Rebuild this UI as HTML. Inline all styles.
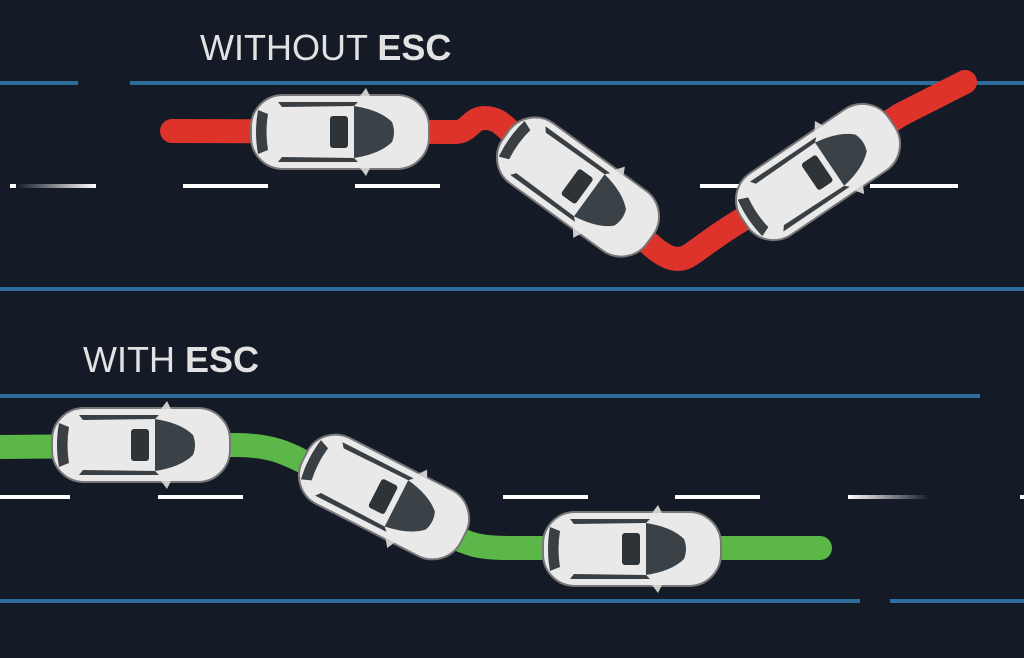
<!DOCTYPE html>
<html><head><meta charset="utf-8"><style>
html,body{margin:0;padding:0;background:#141b27;}
svg{display:block}
</style></head><body>
<svg width="1024" height="658" viewBox="0 0 1024 658" xmlns="http://www.w3.org/2000/svg">
<defs>
<linearGradient id="fade" x1="0" x2="1"><stop offset="0" stop-color="#fff" stop-opacity="0"/><stop offset="1" stop-color="#fff"/></linearGradient>
<linearGradient id="fadeR" x1="0" x2="1"><stop offset="0" stop-color="#fff"/><stop offset="1" stop-color="#fff" stop-opacity="0"/></linearGradient>
<g id="car">
<rect x="-89" y="-37" width="178" height="74" rx="32" fill="#e9e9e9" stroke="#777" stroke-width="2"/>
<path d="M-82,-22 Q-86,0 -82,22 L-72,18 Q-75,0 -72,-18Z" fill="#3a3f44"/>
<path d="M14,-26 Q40,-22 52,-10 Q56,0 52,10 Q40,22 14,26 Z" fill="#3b4247"/>
<rect x="-10" y="-16" width="18" height="32" rx="3" fill="#2e3338"/>
<path d="M-62,-30 L18,-30 L14,-26 L-58,-25Z" fill="#3a3f44"/>
<path d="M-62,30 L18,30 L14,26 L-58,25Z" fill="#3a3f44"/>
<path d="M20,-36 L26,-44 L30,-36Z M20,36 L26,44 L30,36Z" fill="#ccc"/>
</g>
</defs>
<rect width="1024" height="658" fill="#141b27"/>
<!-- blue lines -->
<g fill="#2f6e9c">
<rect x="0" y="81" width="78" height="4"/><rect x="130" y="81" width="894" height="4"/>
<rect x="0" y="287" width="1024" height="4"/>
<rect x="0" y="394" width="980" height="4"/>
<rect x="0" y="599" width="860" height="4"/><rect x="890" y="599" width="134" height="4"/>
</g>
<!-- dashes -->
<g fill="#fff">
<rect x="10" y="184" width="6" height="4"/><rect x="16" y="184" width="80" height="4" fill="url(#fadeR)" transform="scale(-1,1) translate(-112,0)"/>
<rect x="183" y="184" width="85" height="4"/><rect x="355" y="184" width="85" height="4"/>
<rect x="700" y="184" width="40" height="4"/><rect x="870" y="184" width="88" height="4"/>
<rect x="0" y="495" width="70" height="4"/><rect x="158" y="495" width="85" height="4"/>
<rect x="503" y="495" width="85" height="4"/><rect x="675" y="495" width="85" height="4"/>
<rect x="848" y="495" width="82" height="4" fill="url(#fadeR)"/><rect x="1020" y="495" width="4" height="4"/>
</g>
<!-- paths -->
<path d="M172,131 L455,132 C470,132 470,118 485,118 C500,118 505,128 520,140 L640,235 C660,255 675,265 690,255 C705,245 720,232 750,215 L900,115 L965,82" fill="none" stroke="#de332b" stroke-width="24" stroke-linecap="round" stroke-linejoin="round"/>
<path d="M0,447 L235,445 C270,445 285,452 310,465 L450,535 C470,545 480,548 510,548 L820,548" fill="none" stroke="#5bb848" stroke-width="24" stroke-linecap="round" stroke-linejoin="round"/>
<!-- cars -->
<use href="#car" transform="translate(340,132)"/>
<use href="#car" transform="translate(578,187) rotate(36)"/>
<use href="#car" transform="translate(818,172) rotate(-34)"/>
<use href="#car" transform="translate(141,445)"/>
<use href="#car" transform="translate(384,497) rotate(27)"/>
<use href="#car" transform="translate(632,549)"/>
<!-- text -->
<text x="200" y="60" font-family="Liberation Sans, sans-serif" font-size="36" fill="#e2e2e2">WITHOUT <tspan font-weight="bold">ESC</tspan></text>
<text x="83" y="372" font-family="Liberation Sans, sans-serif" font-size="36" fill="#e2e2e2">WITH <tspan font-weight="bold">ESC</tspan></text>
</svg>
</body></html>
